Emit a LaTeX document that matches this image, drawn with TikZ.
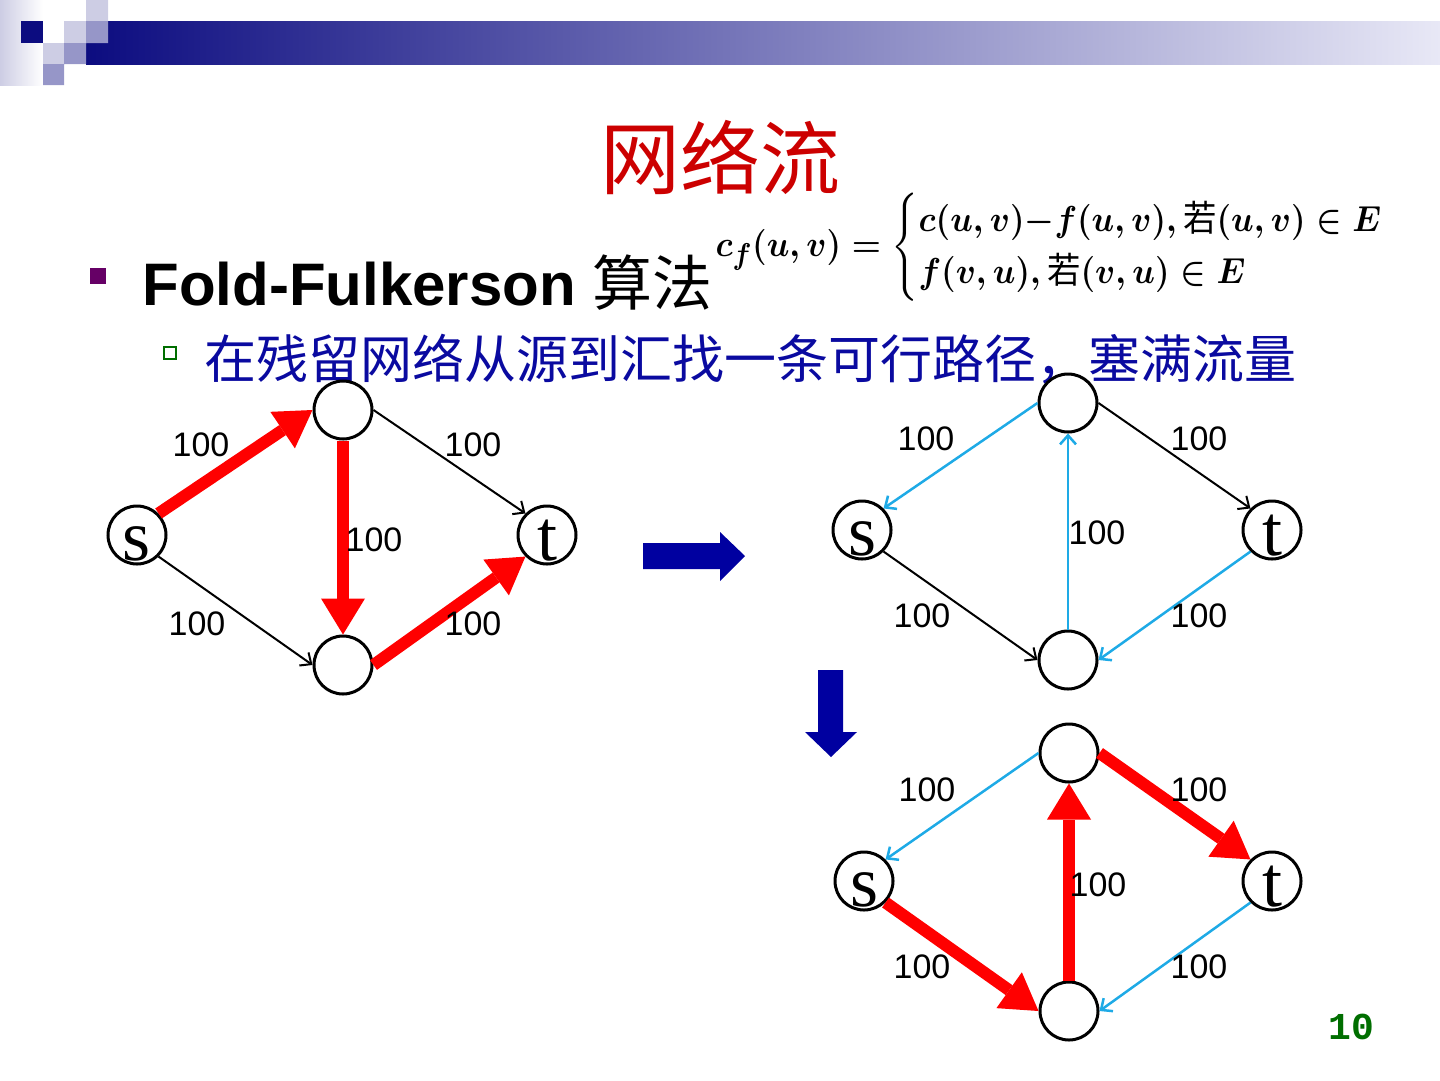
\documentclass[tikz,border=0pt]{standalone}
\usepackage{amsmath}
\usepackage{fontspec}
\setmainfont{Liberation Serif}
\setsansfont{Liberation Sans}
\setmonofont{Liberation Mono}
\newfontfamily\cjk{Noto Sans CJK SC}
\usetikzlibrary{arrows.meta}
\definecolor{barnavy}{RGB}{12,12,128}
\definecolor{barpale}{RGB}{232,232,246}
\definecolor{sqlight}{RGB}{205,205,228}
\definecolor{sqmid}{RGB}{150,150,200}
\definecolor{titlered}{RGB}{204,0,0}
\definecolor{bulletpurple}{RGB}{102,0,102}
\definecolor{subgreen}{RGB}{0,110,0}
\definecolor{textblue}{RGB}{10,10,160}
\definecolor{arrowblue}{RGB}{0,0,160}
\definecolor{resblue}{RGB}{30,170,230}
\definecolor{pagegreen}{RGB}{0,110,0}
\tikzset{
  vertex/.style={circle, draw, line width=3pt, minimum size=58pt, inner sep=0pt,
    font=\fontsize{72}{72}\selectfont, text height=50pt, text depth=0pt},
  caplabel/.style={font=\sffamily\fontsize{34}{34}\selectfont},
  flowarc/.style={line width=2pt, -{Straight Barb[length=9pt,width=16pt]}},
  resarc/.style={resblue, line width=2.5pt, -{Straight Barb[length=9pt,width=16pt]}},
  patharc/.style={red, line width=12pt, -{Triangle[length=36pt,width=44pt,line width=0pt]}}
}
\begin{document}
\begin{tikzpicture}[x=1pt,y=-1pt]
\useasboundingbox (0,0) rectangle (1440,1080);
\shade[left color=sqlight, right color=white] (0,0) rectangle (43,85);
\shade[left color=barnavy, right color=barpale] (86,21) rectangle (1440,64);
\fill[barnavy] (21,21) rectangle (43,43);
\fill[sqlight] (43,43) rectangle (64,64) (64,21) rectangle (86,43) (86,0) rectangle (108,21);
\fill[sqmid] (43,64) rectangle (64,85) (64,43) rectangle (86,64) (86,21) rectangle (108,43);

\node[anchor=base, font=\cjk\fontsize{80}{80}\selectfont, text=titlered] (title) at (720,188) {网络流};
\fill[bulletpurple] (90,268) rectangle (106,284);
\node[anchor=base west, font=\sffamily\fontsize{60}{60}\selectfont] (head) at (139,305) {\bfseries Fold-Fulkerson {\cjk\mdseries 算法}};
\draw[subgreen, line width=1.5pt] (164,347) rectangle (176,359);
\node[anchor=base west, font=\cjk\fontsize{52}{52}\selectfont, text=textblue] (sub) at (201,378) {在残留网络从源到汇找一条可行路径，塞满流量};
\node[anchor=west] (formula) at (712,247)
  {\scalebox{1.34}[1.45]{\fontsize{24.88}{30}\selectfont\boldmath$c_f(u,v)=\begin{cases} c(u,v){-}f(u,v),\mbox{\cjk 若}(u,v)\in E\\ f(v,u),\mbox{\cjk 若}(v,u)\in E\end{cases}$}};

\node[vertex] (s1) at (137,535) {s};
\node[vertex] (a1) at (343,410) {};
\node[vertex] (t1) at (547,535) {t};
\node[vertex] (b1) at (343,665) {};
\draw[patharc] (s1.north east) -- (a1.west);
\draw[flowarc] (a1.east) -- (t1.north west);
\draw[patharc] (a1.south) -- (b1.north);
\draw[flowarc] (s1.south east) -- (b1.west);
\draw[patharc] (b1.east) -- (t1.south west);
\node[caplabel] (w11) at (201,445) {100};
\node[caplabel] (w12) at (473,445) {100};
\node[caplabel] (w13) at (374,540) {100};
\node[caplabel] (w14) at (197,624) {100};
\node[caplabel] (w15) at (473,624) {100};

\fill[arrowblue] (643,543) -- (720,543) -- (720,532) -- (745,556) -- (720,581) -- (720,569) -- (643,569) -- cycle;
\fill[arrowblue] (818,670) -- (843,670) -- (843,732) -- (857,732) -- (831,757) -- (805,732) -- (818,732) -- cycle;

\node[vertex] (s2) at (862,530) {s};
\node[vertex] (a2) at (1068,403) {};
\node[vertex] (t2) at (1272,530) {t};
\node[vertex] (b2) at (1068,660) {};
\draw[resarc] (a2.west) -- (s2.north east);
\draw[flowarc] (a2.east) -- (t2.north west);
\draw[resarc] (b2.north) -- (a2.south);
\draw[flowarc] (s2.south east) -- (b2.west);
\draw[resarc] (t2.south west) -- (b2.east);
\node[caplabel] (w21) at (926,439) {100};
\node[caplabel] (w22) at (1199,439) {100};
\node[caplabel] (w23) at (1097,533) {100};
\node[caplabel] (w24) at (922,616) {100};
\node[caplabel] (w25) at (1199,616) {100};

\node[vertex] (s3) at (864,881) {s};
\node[vertex] (a3) at (1069,753) {};
\node[vertex] (t3) at (1272,881) {t};
\node[vertex] (b3) at (1069,1011) {};
\draw[resarc] (a3.west) -- (s3.north east);
\draw[patharc] (a3.east) -- (t3.north west);
\draw[patharc] (b3.north) -- (a3.south);
\draw[patharc] (s3.south east) -- (b3.west);
\draw[resarc] (t3.south west) -- (b3.east);
\node[caplabel] (w31) at (927,790) {100};
\node[caplabel] (w32) at (1199,790) {100};
\node[caplabel] (w33) at (1098,885) {100};
\node[caplabel] (w34) at (922,967) {100};
\node[caplabel] (w35) at (1199,967) {100};

\node[font=\ttfamily\bfseries\fontsize{38}{38}\selectfont, text=pagegreen] (pageno) at (1351,1027) {10};
\end{tikzpicture}
\end{document}
